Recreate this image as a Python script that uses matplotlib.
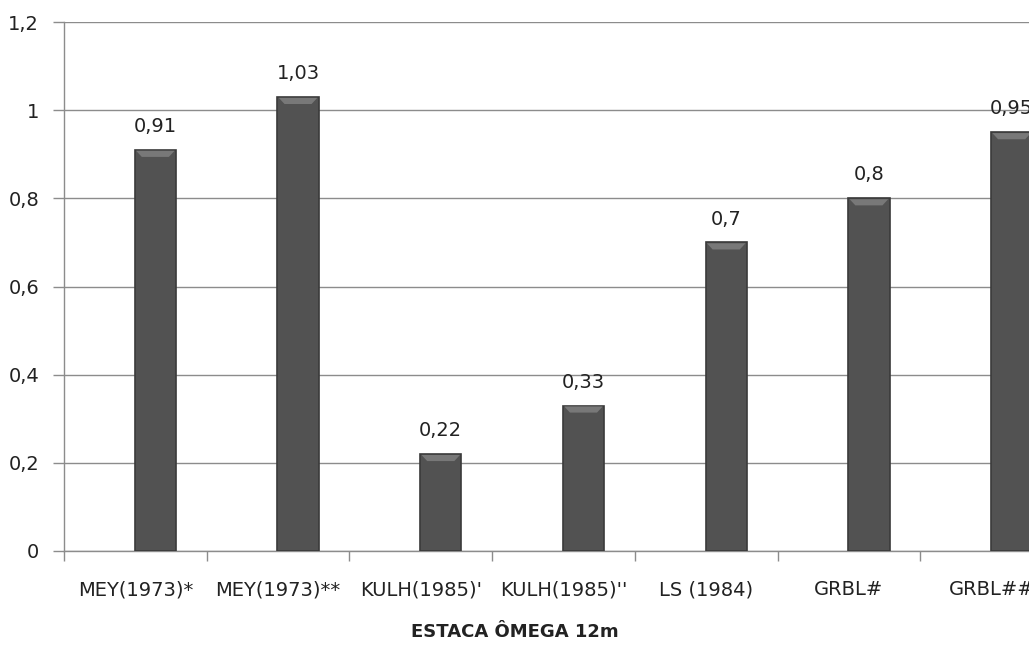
import matplotlib
matplotlib.use("Agg")
import matplotlib.pyplot as plt
from matplotlib.patches import Polygon
import numpy as np

categories = ["MEY(1973)*", "MEY(1973)**", "KULH(1985)'", "KULH(1985)''", "LS (1984)", "GRBL#", "GRBL##"]
values = [0.91, 1.03, 0.22, 0.33, 0.7, 0.8, 0.95]
value_labels = ["0,91", "1,03", "0,22", "0,33", "0,7", "0,8", "0,95"]
yticks = [0, 0.2, 0.4, 0.6, 0.8, 1.0, 1.2]
ytick_labels = ["0", "0,2", "0,4", "0,6", "0,8", "1", "1,2"]
xlabel = "ESTACA ÔMEGA 12m"

plt.rcParams['font.family'] = ['DejaVu Sans']

fig = plt.figure(figsize=(10.29, 6.49), dpi=100)
ax = fig.add_axes([64/1029, 98/649, 999/1029, 529/649])

x = np.arange(len(categories))
offset = 0.14
width = 0.29
bars = ax.bar(x + offset, values, width=width, color="#525252", edgecolor="#3a3a3a",
              linewidth=1.2, zorder=3)

# light bevel on top of each bar (trapezoid shading)
bev_h = 0.016
bev_w = 0.05
for xi, v in zip(x, values):
    l = xi + offset - width / 2
    r = xi + offset + width / 2
    poly = Polygon([(l + 0.01, v - 0.002), (r - 0.01, v - 0.002),
                    (r - bev_w, v - bev_h), (l + bev_w, v - bev_h)],
                   closed=True, facecolor="#787878", edgecolor="none", zorder=4)
    ax.add_patch(poly)

for xi, v, lab in zip(x, values, value_labels):
    ax.annotate(lab, (xi + offset, v), xytext=(0, 10), textcoords="offset points",
                ha="center", va="bottom", fontsize=14, color="#222222",
                annotation_clip=False)

ax.set_xlim(-0.5, len(categories) - 0.5)
ax.set_ylim(0, 1.2)
ax.set_yticks(yticks)
ax.set_yticklabels(ytick_labels, fontsize=14, color="#222222")
ax.set_xticks(x)
ax.set_xticklabels(categories, fontsize=14, color="#222222")
ax.set_xticks(np.arange(len(categories) + 1) - 0.5, minor=True)
ax.tick_params(axis="x", which="major", length=0, pad=21)
ax.tick_params(axis="x", which="minor", length=7, color="#8c8c8c", width=1)
ax.tick_params(axis="y", length=8, color="#8c8c8c", width=1, pad=10)

ax.grid(axis="y", color="#8c8c8c", linewidth=1, zorder=0)
for s in ["top", "right"]:
    ax.spines[s].set_visible(False)
for s in ["left", "bottom"]:
    ax.spines[s].set_color("#8c8c8c")
    ax.spines[s].set_linewidth(1)

fig.text(0.5, 1 - 632/649, xlabel, ha="center", va="center", fontsize=13,
         fontweight="bold", color="#222222")

fig.savefig("out.png", dpi=100)
